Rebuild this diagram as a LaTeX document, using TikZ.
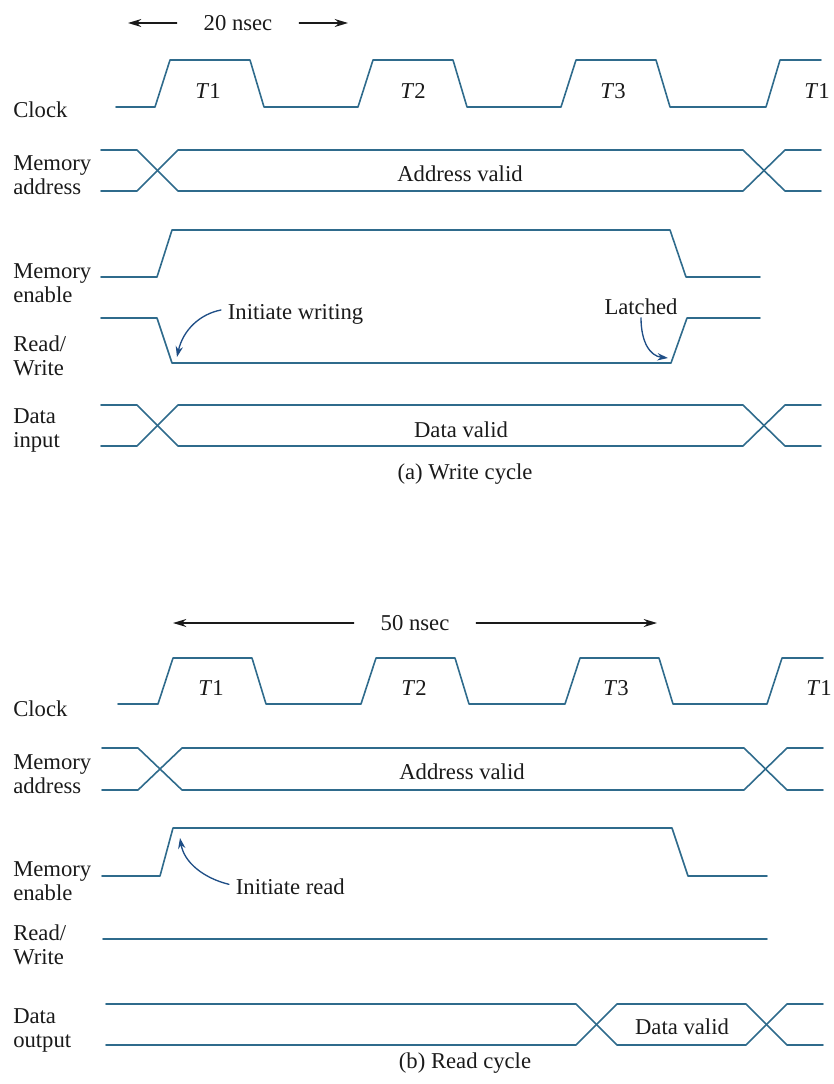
\documentclass[tikz,border=0pt]{standalone}
\usepackage{fontspec}
\setmainfont{Liberation Serif}
\usepackage{xcolor}
\usepackage{tikz}
\usetikzlibrary{arrows.meta}
\definecolor{tdWave}{HTML}{2F6B8C}
\definecolor{tdInk}{HTML}{1A1A1A}
\definecolor{tdNote}{HTML}{1F4E86}
\tikzset{
  td diagram/.style={x=0.75pt, y=-0.75pt, font=\fontsize{17}{17.8}\selectfont,
    text=tdInk, line cap=round, line join=round},
  td wave/.style={draw=tdWave, line width=1.2pt},
  td signal/.style={anchor=west, align=left, inner sep=0pt},
  td text/.style={inner sep=0pt},
  td note/.style={inner sep=2pt},
  td span/.style={inner ysep=0pt, inner xsep=20pt},
  td span arrow/.style={-{Stealth[length=10pt, width=6pt]}, draw=tdInk, line width=0.9pt},
  td note arrow/.style={-{Stealth[length=8pt, width=5.5pt]}, draw=tdNote, line width=1pt}
}
\begin{document}
\begin{tikzpicture}[td diagram]
\useasboundingbox (0,0) rectangle (834,1084);
\begin{scope}
\node[td span] (spanA) at (238,23) {20 nsec};
\coordinate (spanAl) at (128,23);
\coordinate (spanAr) at (348,23);
\draw[td span arrow] (spanA.west) -- (spanAl);
\draw[td span arrow] (spanA.east) -- (spanAr);
\node[td signal] (clkA) at (13,110) {Clock};
\node[td signal] (addrA) at (13,175) {Memory\\address};
\node[td signal] (enA) at (13,283.5) {Memory\\enable};
\node[td signal] (rwA) at (13,355.5) {Read/\\Write};
\node[td signal] (dataA) at (13,430.5) {Data\\input};
\draw[td wave] (116,107) \foreach \s in {155,358,561} { -- (\s,107) -- ({\s+15},60) -- ({\s+95},60) -- ({\s+109},107) } -- (766,107) -- (780,60) -- (821,60);
\foreach \x/\t [count=\i] in {208/1,413/2,613/3,817/1} \node[td text] (tA\i) at (\x,91) {\textit{T}\t};
\draw[td wave] (101,150) -- (137,150) -- (178,191) -- (743,191) -- (785,150) -- (821,150);
\draw[td wave] (101,191) -- (137,191) -- (178,150) -- (743,150) -- (785,191) -- (821,191);
\node[td text] (addrvA) at (460,174) {Address valid};
\draw[td wave] (101,277) -- (157,277) -- (172,230) -- (670,230) -- (686,277) -- (760,277);
\draw[td wave] (101,318) -- (157,318) -- (172,363) -- (671,363) -- (687,318) -- (760,318);
\node[td note, anchor=west] (initw) at (225,314) {Initiate writing};
\coordinate (wrfall) at (177,357);
\draw[td note arrow] ([xshift=-3pt, yshift=3pt]initw.west) .. controls (200,314) and (183,330) .. (wrfall);
\node[td note] (latch) at (641,307) {Latched};
\coordinate (wrrise) at (668,358);
\draw[td note arrow] (latch.south) .. controls (641,342) and (650,356) .. (wrrise);
\draw[td wave] (101,405) -- (137,405) -- (178,446) -- (743,446) -- (785,405) -- (821,405);
\draw[td wave] (101,446) -- (137,446) -- (178,405) -- (743,405) -- (785,446) -- (821,446);
\node[td text] (datavA) at (461,430) {Data valid};
\node[td text] (capA) at (465,474) {(a) Write cycle};
\end{scope}
\begin{scope}
\node[td span] (spanB) at (415,623) {50 nsec};
\coordinate (spanBl) at (173,623);
\coordinate (spanBr) at (657,623);
\draw[td span arrow] (spanB.west) -- (spanBl);
\draw[td span arrow] (spanB.east) -- (spanBr);
\node[td signal] (clkB) at (13,709) {Clock};
\node[td signal] (addrB) at (13,774.5) {Memory\\address};
\node[td signal] (enB) at (13,881.5) {Memory\\enable};
\node[td signal] (rwB) at (13,944.5) {Read/\\Write};
\node[td signal] (dataB) at (13,1030.5) {Data\\output};
\draw[td wave] (118,704) \foreach \s in {158,361,565} { -- (\s,704) -- ({\s+15},658) -- ({\s+94},658) -- ({\s+108},704) } -- (767,704) -- (782,658) -- (823,658);
\foreach \x/\t [count=\i] in {211/1,414/2,616/3,819/1} \node[td text] (tB\i) at (\x,688) {\textit{T}\t};
\draw[td wave] (102,748) -- (138,748) -- (182,790) -- (744,790) -- (787,748) -- (823,748);
\draw[td wave] (102,790) -- (138,790) -- (182,748) -- (744,748) -- (787,790) -- (823,790);
\node[td text] (addrvB) at (462,772) {Address valid};
\draw[td wave] (102,876) -- (160,876) -- (173,828) -- (672,828) -- (688,876) -- (767,876);
\node[td note, anchor=west] (initr) at (233,887) {Initiate read};
\coordinate (enrise) at (180,838);
\draw[td note arrow] ([xshift=-3pt, yshift=2pt]initr.west) .. controls (203,878) and (184,862) .. (enrise);
\draw[td wave] (103,939) -- (767,939);
\draw[td wave] (106,1004) -- (576,1004) -- (617,1045) -- (746,1045) -- (787,1004) -- (823,1004);
\draw[td wave] (106,1045) -- (576,1045) -- (617,1004) -- (746,1004) -- (787,1045) -- (823,1045);
\node[td text] (datavB) at (682,1027) {Data valid};
\node[td text] (capB) at (465,1063) {(b) Read cycle};
\end{scope}
\end{tikzpicture}
\end{document}
